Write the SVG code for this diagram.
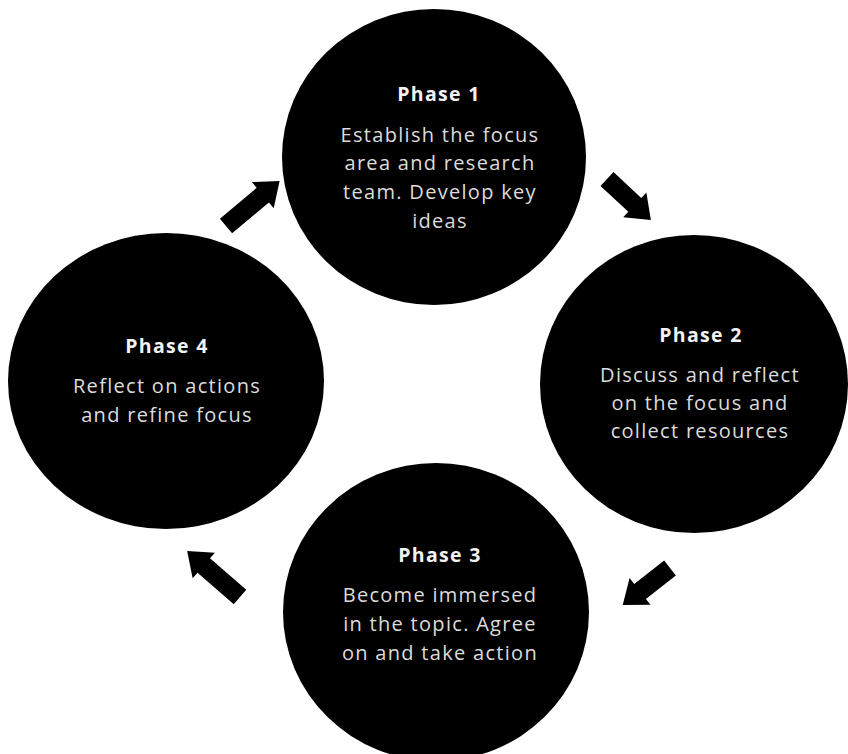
<svg xmlns="http://www.w3.org/2000/svg" width="848" height="754" viewBox="0 0 848 754">
  <style>
    .disc { fill: #000000; }
    .title { font-family: "Open Sans", "DejaVu Sans", sans-serif; font-size: 19.5px; font-weight: bold; letter-spacing: 1.3px; fill: #f2f2f2; text-anchor: middle; }
    .body { font-family: "Open Sans", "DejaVu Sans", sans-serif; font-size: 20px; letter-spacing: 1.3px; fill: #dcdcdc; text-anchor: middle; }
    .arrow { fill: #000000; }
  </style>
  <defs>
    <!-- block arrow pointing along +x, tail at origin -->
    <path id="blk60" d="M0,-9.5 L38,-9.5 L38,-17 L60,0 L38,17 L38,9.5 L0,9.5 Z"/>
    <path id="blk70" d="M0,-9.5 L48,-9.5 L48,-17 L70,0 L48,17 L48,9.5 L0,9.5 Z"/>
  </defs>
  <rect width="848" height="754" fill="#ffffff"/>

  <g id="phase1">
    <ellipse class="disc" cx="434" cy="157" rx="152" ry="148"/>
    <text class="title" x="439" y="101">Phase 1</text>
    <text class="body" x="440" y="142">Establish the focus</text>
    <text class="body" x="440" y="170">area and research</text>
    <text class="body" x="440" y="199">team. Develop key</text>
    <text class="body" x="440" y="228">ideas</text>
  </g>

  <g id="phase2">
    <ellipse class="disc" cx="694" cy="384" rx="154" ry="149"/>
    <text class="title" x="701" y="342">Phase 2</text>
    <text class="body" x="700" y="382">Discuss and reflect</text>
    <text class="body" x="700" y="410">on the focus and</text>
    <text class="body" x="700" y="438">collect resources</text>
  </g>

  <g id="phase3">
    <ellipse class="disc" cx="436" cy="612" rx="153" ry="149"/>
    <text class="title" x="440" y="562">Phase 3</text>
    <text class="body" x="440" y="602">Become immersed</text>
    <text class="body" x="440" y="631">in the topic. Agree</text>
    <text class="body" x="440" y="660">on and take action</text>
  </g>

  <g id="phase4">
    <ellipse class="disc" cx="166" cy="381" rx="158" ry="148"/>
    <text class="title" x="167" y="353">Phase 4</text>
    <text class="body" x="167" y="393">Reflect on actions</text>
    <text class="body" x="167" y="422">and refine focus</text>
  </g>

  <g id="connectors">
    <use href="#blk70" class="arrow" transform="translate(226,226) rotate(-40)"/>
    <use href="#blk60" class="arrow" transform="translate(607,179) rotate(43)"/>
    <use href="#blk60" class="arrow" transform="translate(670,568) rotate(142)"/>
    <use href="#blk70" class="arrow" transform="translate(240,597) rotate(221)"/>
  </g>
</svg>
